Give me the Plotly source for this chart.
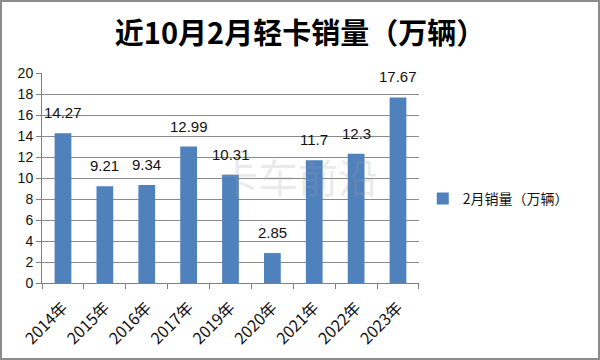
import plotly.graph_objects as go

categories = ["2014年", "2015年", "2016年", "2017年", "2019年", "2020年", "2021年", "2022年", "2023年"]
values = [14.27, 9.21, 9.34, 12.99, 10.31, 2.85, 11.7, 12.3, 17.67]
labels = ["14.27", "9.21", "9.34", "12.99", "10.31", "2.85", "11.7", "12.3", "17.67"]
series_name = "2月销量（万辆）"
title_text = "近10月2月轻卡销量（万辆）"
y_ticks = list(range(0, 21, 2))

FONT = "Liberation Sans, Noto Sans CJK SC, sans-serif"
CJK = "Noto Sans CJK SC, Liberation Sans, sans-serif"

L, R, T, B = 42, 181, 73, 77
PW, PH = 600 - L - R, 360 - T - B

fig = go.Figure()
fig.add_trace(go.Bar(
    x=categories, y=values, name=series_name,
    marker=dict(color="#4F81BD", line=dict(width=0)),
    width=0.4, showlegend=True,
))

for c, v, t in zip(categories, values, labels):
    fig.add_annotation(x=c, y=v, text=t, showarrow=False, yanchor="bottom",
                       yshift=10, font=dict(family=FONT, size=15, color="#111111"))

# watermark
fig.add_annotation(x=(298 - L) / PW, y=(283 - 176) / PH, xref="paper", yref="paper", text="卡车前沿",
                   xanchor="center", yanchor="middle",
                   showarrow=False, font=dict(family=CJK, size=40, color="rgba(160,160,160,0.22)"))

fig.update_layout(
    width=600, height=360,
    margin=dict(l=L, r=R, t=T, b=B, autoexpand=False),
    paper_bgcolor="white", plot_bgcolor="white",
    title=dict(text=title_text, x=0.5, xref="container", xanchor="center",
               y=0.905, yref="container", yanchor="middle", automargin=False,
               font=dict(family=CJK, size=29, color="#000000", weight="bold")),
    bargap=0.6,
    legend=dict(x=1.01, y=0.4, xanchor="left", yanchor="middle",
                font=dict(family=CJK, size=14, color="#111111"), itemwidth=30),
    showlegend=True,
    shapes=[dict(type="rect", xref="paper", yref="paper",
                 x0=(1 - L) / PW, x1=(599 - L) / PW, y0=(283 - 359) / PH, y1=(283 - 1) / PH,
                 line=dict(color="#8c8c8c", width=2))],
)

fig.update_xaxes(
    showline=True, linecolor="#808080", linewidth=1, automargin=False,
    ticks="outside", ticklen=5, tickcolor="#808080", tickson="boundaries",
    tickangle=-45, tickfont=dict(family=CJK, size=16, color="#111111"),
    ticklabelstandoff=8,
    showgrid=False,
)
fig.update_yaxes(
    range=[0, 20], tickvals=y_ticks, showline=True, linecolor="#808080", linewidth=1,
    automargin=False,
    ticks="outside", ticklen=5, tickcolor="#808080",
    gridcolor="#8a8a8a", gridwidth=1,
    tickfont=dict(family=FONT, size=14, color="#111111"),
    zeroline=False,
)
fig.write_html("out.html", config={"displayModeBar": False},
               post_script="document.body.style.margin='0';")
